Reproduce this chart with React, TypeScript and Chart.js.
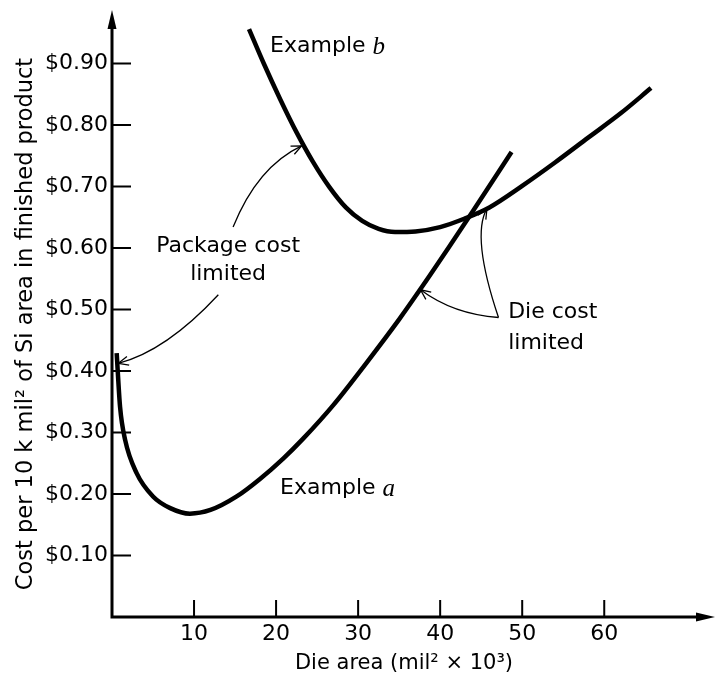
import React, { useEffect, useRef } from "react";
import { Chart, registerables } from "chart.js";

Chart.register(...registerables);

// ---- data ----
const xTickValues = [10, 20, 30, 40, 50, 60];
const yTickValues = [0.1, 0.2, 0.3, 0.4, 0.5, 0.6, 0.7, 0.8, 0.9];

const exampleAX = [0.57, 0.98, 1.6, 3.0, 5.0, 7.1, 9.5, 12.0, 15.2, 18.0, 20.9, 23.3, 27.0, 31.0, 35.0, 38.0, 41.0, 44.0, 48.7];
const exampleAY = [0.429, 0.342, 0.288, 0.234, 0.196, 0.177, 0.168, 0.174, 0.196, 0.224, 0.258, 0.290, 0.345, 0.413, 0.484, 0.541, 0.600, 0.660, 0.756];

const exampleBX = [16.7, 18.5, 20.5, 22.5, 24.5, 26.5, 28.5, 30.5, 32.5, 34.5, 37.0, 40.0, 43.0, 46.0, 50.0, 54.0, 58.0, 62.0, 65.7];
const exampleBY = [0.956, 0.900, 0.842, 0.788, 0.740, 0.699, 0.666, 0.644, 0.631, 0.626, 0.627, 0.634, 0.648, 0.666, 0.701, 0.739, 0.779, 0.819, 0.860];

const xTitle = "Die area (mil\u00B2 \u00D7 10\u00B3)";
const yTitle = "Cost per 10 k mil\u00B2 of Si area in finished product";

// annotation arrows in data units: start, control, tip
const arrows = [
  { from: [14.76, 0.634], ctrl: [17.72, 0.732], to: [23.1, 0.766] },
  { from: [12.96, 0.524], ctrl: [6.59, 0.4325], to: [0.77, 0.4125] },
  { from: [47.11, 0.487], ctrl: [41.63, 0.492], to: [37.6, 0.532] },
  { from: [47.11, 0.487], ctrl: [43.77, 0.619], to: [45.7, 0.664] },
];

const labels = [
  { text: "Package cost", x: 14.15, y: 0.602, align: "center" },
  { text: "limited", x: 14.15, y: 0.557, align: "center" },
  { text: "Die cost", x: 48.29, y: 0.496, align: "left" },
  { text: "limited", x: 48.29, y: 0.4455, align: "left" },
];

const seriesLabels = [
  { text: "Example ", italic: "b", x: 19.27, y: 0.928 },
  { text: "Example ", italic: "a", x: 20.49, y: 0.2098 },
];

const SANS = "'DejaVu Sans', sans-serif";

const overlay = {
  id: "overlay",
  afterDraw(chart: any) {
    const ctx = chart.ctx;
    const xs = chart.scales.x;
    const ys = chart.scales.y;
    const ca = chart.chartArea;
    const px = (v: number) => xs.getPixelForValue(v);
    const py = (v: number) => ys.getPixelForValue(v);
    const x0 = px(0);
    const y0 = py(0);
    ctx.save();
    ctx.strokeStyle = "#000";
    ctx.fillStyle = "#000";
    // axes
    ctx.lineWidth = 3;
    ctx.beginPath();
    ctx.moveTo(x0, y0 + 1.5);
    ctx.lineTo(x0, ca.top + 14);
    ctx.moveTo(x0 - 1.5, y0);
    ctx.lineTo(ca.right - 10, y0);
    ctx.stroke();
    ctx.beginPath();
    ctx.moveTo(x0, ca.top);
    ctx.lineTo(x0 - 4.5, ca.top + 19);
    ctx.lineTo(x0 + 4.5, ca.top + 19);
    ctx.closePath();
    ctx.fill();
    ctx.beginPath();
    ctx.moveTo(ca.right, y0);
    ctx.lineTo(ca.right - 19, y0 - 4.5);
    ctx.lineTo(ca.right - 19, y0 + 4.5);
    ctx.closePath();
    ctx.fill();
    // inward tick marks
    ctx.lineWidth = 2;
    ctx.beginPath();
    yTickValues.forEach((v) => {
      const y = py(v);
      ctx.moveTo(x0, y);
      ctx.lineTo(x0 + 19, y);
    });
    xTickValues.forEach((v) => {
      const x = px(v);
      ctx.moveTo(x, y0);
      ctx.lineTo(x, y0 - 17);
    });
    ctx.stroke();

    // annotation arrows
    ctx.lineWidth = 1.3;
    arrows.forEach((a) => {
      const sx = px(a.from[0]), sy = py(a.from[1]);
      const cx = px(a.ctrl[0]), cy = py(a.ctrl[1]);
      const tx = px(a.to[0]), ty = py(a.to[1]);
      ctx.beginPath();
      ctx.moveTo(sx, sy);
      ctx.quadraticCurveTo(cx, cy, tx, ty);
      ctx.stroke();
      const ang = Math.atan2(ty - cy, tx - cx);
      const L = 11, w = 0.42;
      ctx.beginPath();
      ctx.moveTo(tx - L * Math.cos(ang - w), ty - L * Math.sin(ang - w));
      ctx.lineTo(tx, ty);
      ctx.lineTo(tx - L * Math.cos(ang + w), ty - L * Math.sin(ang + w));
      ctx.stroke();
    });

    // text labels
    ctx.textBaseline = "middle";
    ctx.font = `22px ${SANS}`;
    labels.forEach((l) => {
      ctx.textAlign = l.align as CanvasTextAlign;
      ctx.fillText(l.text, px(l.x), py(l.y));
    });
    seriesLabels.forEach((l) => {
      ctx.textAlign = "left";
      ctx.font = `22px ${SANS}`;
      const x = px(l.x), y = py(l.y);
      ctx.fillText(l.text, x, y);
      const w = ctx.measureText(l.text).width;
      ctx.font = `italic 25px 'Liberation Serif', serif`;
      ctx.fillText(l.italic, x + w, y + 1);
    });

    // axis titles
    ctx.font = `21px ${SANS}`;
    ctx.textAlign = "center";
    ctx.fillText(xTitle, 404, 664);
    ctx.save();
    ctx.translate(26, 324);
    ctx.rotate(-Math.PI / 2);
    ctx.font = `22.5px ${SANS}`;
    ctx.fillText(yTitle, 0, 0);
    ctx.restore();
    ctx.restore();
  },
};

export default function App() {
  const ref = useRef<HTMLCanvasElement | null>(null);
  useEffect(() => {
    if (!ref.current) return;
    const toPts = (xs: number[], ys: number[]) => xs.map((x, i) => ({ x, y: ys[i] }));
    const chart = new Chart(ref.current, {
      type: "scatter",
      data: {
        datasets: [
          {
            label: "Example a",
            data: toPts(exampleAX, exampleAY),
            showLine: true,
            borderColor: "#000",
            borderWidth: 4.5,
            pointRadius: 0,
            cubicInterpolationMode: "monotone",
            fill: false,
          },
          {
            label: "Example b",
            data: toPts(exampleBX, exampleBY),
            showLine: true,
            borderColor: "#000",
            borderWidth: 4.5,
            pointRadius: 0,
            cubicInterpolationMode: "monotone",
            fill: false,
          },
        ],
      },
      options: {
        responsive: false,
        animation: false,
        devicePixelRatio: 1,
        layout: { padding: { top: 10, right: 2, left: 0, bottom: 0 } },
        plugins: { legend: { display: false }, tooltip: { enabled: false } },
        scales: {
          x: {
            type: "linear",
            min: 0,
            max: 73.5,
            grid: { display: false, drawTicks: false },
            border: { display: false },
            ticks: {
              color: "#000",
              font: { family: SANS, size: 22 },
              padding: 4,
              maxRotation: 0,
              autoSkip: false,
            },
            afterBuildTicks: (s: any) => {
              s.ticks = xTickValues.map((v) => ({ value: v }));
            },
            afterFit: (s: any) => {
              s.height = 65;
              s.paddingLeft = 0;
              s.paddingRight = 0;
            },
          },
          y: {
            type: "linear",
            min: 0,
            max: 0.987,
            grid: { display: false, drawTicks: false },
            border: { display: false },
            ticks: {
              color: "#000",
              font: { family: SANS, size: 22 },
              padding: 4,
              autoSkip: false,
              callback: (v: any) => "$" + Number(v).toFixed(2),
            },
            afterBuildTicks: (s: any) => {
              s.ticks = yTickValues.map((v) => ({ value: v }));
            },
            afterFit: (s: any) => {
              s.width = 112;
              s.paddingTop = 0;
              s.paddingBottom = 0;
            },
          },
        },
      },
      plugins: [overlay],
    });
    return () => chart.destroy();
  }, []);
  return (
    <div style={{ position: "fixed", left: 0, top: 0, width: 717, height: 682, background: "#fff" }}>
      <canvas ref={ref} width={717} height={682} style={{ display: "block" }} />
    </div>
  );
}
